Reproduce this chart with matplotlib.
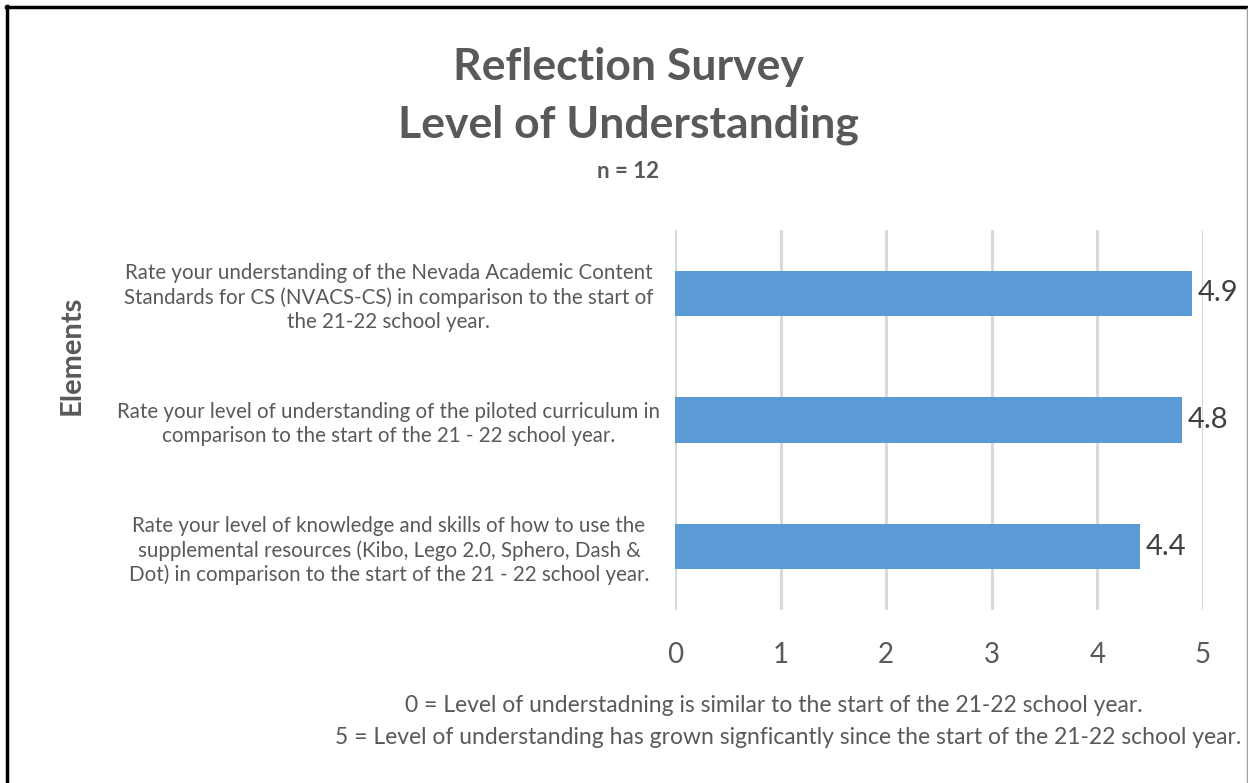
import matplotlib.pyplot as plt
from matplotlib.lines import Line2D

# survey items (top to bottom) and mean ratings
items = [
    "Rate your understanding of the Nevada Academic Content\nStandards for CS (NVACS-CS) in comparison to the start of\nthe 21-22 school year.",
    "Rate your level of understanding of the piloted curriculum in\ncomparison to the start of the 21 - 22 school year.",
    "Rate your level of knowledge and skills of how to use the\nsupplemental resources (Kibo, Lego 2.0, Sphero, Dash &\nDot) in comparison to the start of the 21 - 22 school year.",
]
scores = [4.9, 4.8, 4.4]
ticks = [0, 1, 2, 3, 4, 5]

gray = '#595959'
plt.rcParams['font.family'] = ['Lato', 'DejaVu Sans']

fig = plt.figure(figsize=(12.48, 7.83), dpi=100)
ax = fig.add_axes([675 / 1248, 1 - 610 / 783, (1203 - 675) / 1248, 380 / 783])

pos = list(range(len(items)))[::-1]
bars = ax.barh(pos, scores, height=0.36, color='#5B9BD5', zorder=3)

ax.set_xlim(0, 5)
ax.set_ylim(-0.5, 2.5)
ax.set_xticks(ticks)
ax.set_xticklabels([str(t) for t in ticks], fontsize=20, color=gray)
ax.set_yticks(pos)
ax.set_yticklabels(items, fontsize=14.8, color=gray, ha='center', linespacing=1.25)
ax.tick_params(axis='y', length=0, pad=206)
ax.tick_params(axis='x', length=0, pad=23)
ax.grid(axis='x', color='#D9D9D9', linewidth=2.2, zorder=0)
for s in ax.spines.values():
    s.set_visible(False)

for b, v in zip(bars, scores):
    ax.annotate(f"{v}", (b.get_width(), b.get_y() + b.get_height() / 2),
                xytext=(4, 0), textcoords='offset points', va='center', ha='left',
                fontsize=21, color='#404040')

fig.text(628 / 1248, 1 - 67 / 783, "Reflection Survey", ha='center', va='center',
         fontsize=32, fontweight='bold', color=gray)
fig.text(628 / 1248, 1 - 125 / 783, "Level of Understanding", ha='center', va='center',
         fontsize=32, fontweight='bold', color=gray)
fig.text(628 / 1248, 1 - 171 / 783, "n = 12", ha='center', va='center',
         fontsize=16, fontweight='bold', color=gray)
fig.text(72 / 1248, 1 - 355 / 783, "Elements", ha='center', va='center', rotation=90,
         fontsize=21, fontweight='bold', color=gray)

fig.text(774 / 1248, 1 - 705 / 783, "0 = Level of understadning is similar to the start of the 21-22 school year.",
         ha='center', va='center', fontsize=16.5, color=gray)
fig.text(788 / 1248, 1 - 738 / 783, "5 = Level of understanding has grown signficantly since the start of the 21-22 school year.",
         ha='center', va='center', fontsize=16.5, color=gray)

# border of the chart box
fig.add_artist(Line2D([6 / 1248, 1], [1 - 7 / 783, 1 - 7 / 783], color='black', linewidth=2.5))
fig.add_artist(Line2D([7 / 1248, 7 / 1248], [0, 1 - 6 / 783], color='black', linewidth=2.5))
fig.add_artist(Line2D([1246.5 / 1248, 1246.5 / 1248], [0, 1 - 8 / 783], color='#A0A0A0', linewidth=1))

fig.savefig('out.png', dpi=100)
